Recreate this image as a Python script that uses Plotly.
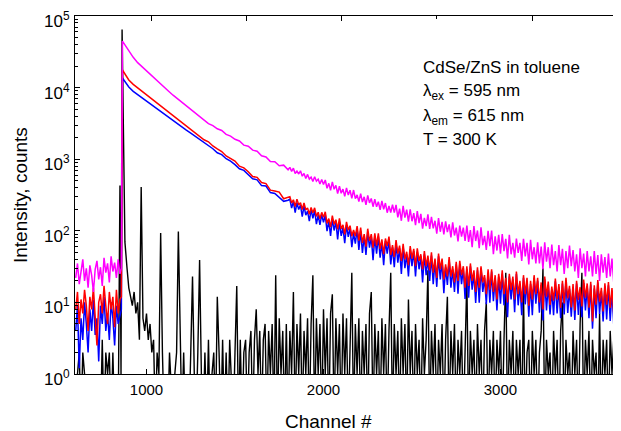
import numpy as np
import plotly.graph_objects as go

# ---------------- data ----------------
PRE_CH = list(range(600, 851, 10))                 # before the excitation pulse
RISE_CH = [858, 864]
HEAD_CH = [880, 900, 925, 950, 975]
MID_CH = list(range(1000, 1801, 25))
TAIL_CH = list(range(1810, 3671, 10))
COLOR_CH = PRE_CH + RISE_CH + HEAD_CH + MID_CH + TAIL_CH

MAGENTA_COUNTS = (
    [22, 35, 18, 28, 40, 20, 30, 16, 33, 24, 14, 29, 38, 21, 31, 17, 42, 26, 35, 19, 44, 27, 36, 22, 40, 25]
    + [30, 44700]
    + [38600, 32200, 26500, 22300, 19500]
    + [16900, 14800, 13000, 11500, 10100, 8890, 7830, 6970, 6220, 5560, 4970, 4440]
    + [3963, 3575, 3145, 2946, 2658, 2515, 2225, 2105, 1900, 1797, 1573, 1516, 1338,
       1291, 1116, 1075, 929, 922, 811, 826, 711]
    + [769, 675, 750, 631, 683, 621, 689, 579, 631, 538]
    + [613, 527, 560, 489, 568, 493, 527, 451, 521, 443]
    + [512, 393, 460, 368, 482, 380, 432, 332, 419, 334]
    + [382, 303, 398, 315, 369, 284, 371, 282, 317, 256]
    + [330, 252, 298, 231, 312, 245, 283, 217, 276, 216]
    + [255, 196, 261, 200, 244, 179, 222, 180, 232, 179]
    + [230, 154, 204, 138, 223, 153, 197, 134, 200, 136]
    + [176, 120, 188, 128, 172, 107, 151, 116, 170, 106]
    + [156, 108, 138, 91, 150, 97, 133, 89, 135, 96]
    + [123, 81, 131, 86, 111, 71, 118, 83, 111, 72]
    + [118, 70, 102, 59, 116, 72, 101, 57, 112, 63]
    + [85, 54, 100, 61, 101, 47, 84, 53, 88, 48]
    + [90, 52, 77, 41, 88, 47, 68, 42, 78, 49]
    + [68, 38, 77, 44, 68, 34, 75, 40, 59, 35]
    + [69, 35, 60, 29, 69, 37, 59, 30, 64, 33]
    + [52, 27, 63, 33, 56, 25, 52, 30, 62, 32]
    + [54, 27, 47, 22, 57, 30, 48, 23, 52, 27]
    + [44, 23, 52, 25, 46, 20, 47, 26, 43, 22]
    + [48, 23, 41, 19, 47, 24, 41]
)

RED_COUNTS = (
    [8, 14, 5, 11, 7, 15, 9, 4, 12, 8, 16, 6, 2.5, 10, 13, 7, 17, 9, 5, 14, 8, 12, 4.5, 15, 7, 11]
    + [12, 17600]
    + [15300, 12800, 11100, 9950, 8910]
    + [7960, 7130, 6370, 5700, 5110, 4560, 4080, 3660, 3280, 2940, 2640, 2370]
    + [2150, 1870, 1750, 1530, 1393, 1280, 1110, 1026, 943, 800, 756, 667, 574,
       558, 473, 456, 370, 360, 347, 280, 294]
    + [300, 245, 271, 218, 276, 230, 246, 198, 245, 196]
    + [209, 170, 212, 179, 209, 159, 182, 147, 181, 154]
    + [184, 127, 148, 113, 163, 123, 143, 105, 149, 106]
    + [121, 89, 133, 102, 118, 84, 103, 84, 116, 73]
    + [111, 68, 90, 60, 107, 72, 90, 58, 92, 62]
    + [92, 56, 76, 47, 78, 61, 83, 46, 63, 43]
    + [74, 48, 62, 38, 66, 40, 51, 33, 61, 41]
    + [56, 32, 57, 38, 47, 29, 52, 32, 45, 28]
    + [50, 26, 41, 22, 48, 29, 41, 21, 34, 23]
    + [43, 23, 32, 19, 37, 20, 38, 24, 32, 16]
    + [32, 17, 35, 20, 28, 14, 31, 16, 32, 19]
    + [24, 13, 29, 15, 29, 14, 24, 11, 25, 15]
    + [28, 13, 22, 10, 25, 15, 23, 11, 27, 13]
    + [20, 10, 24, 13, 22, 9, 20, 11, 24, 13]
    + [22, 10, 19, 8, 23, 12, 19.5, 9.2, 16.6, 10.6]
    + [21.6, 11, 18, 8.4, 20, 9.7, 22, 11.4, 17, 8.5]
    + [18, 7.7, 20, 10.8, 16.3, 8.8, 20.8, 11.6, 18.4, 8.4]
    + [19.4, 5.4, 17.3, 9.3, 20.5, 10.2, 16, 7.5, 18.5, 9.3]
    + [19.2, 8.4, 15.9, 7, 17.6, 10, 16.3]
)

BLUE_COUNTS = (
    [4, 9, 1.2, 6, 3, 10, 5, 2, 8, 4, 11, 3.5, 6, 1.5, 9, 5, 12, 4, 7, 3, 10, 6, 2.5, 9, 5, 7]
    + [8, 13600]
    + [12000, 10200, 8870, 7980, 7160]
    + [6440, 5810, 5220, 4710, 4250, 3820, 3450, 3130, 2820, 2550, 2310, 2090]
    + [1875, 1726, 1519, 1400, 1230, 1157, 1016, 937, 840, 736, 698, 605, 533,
       515, 428, 422, 342, 332, 296, 258, 267]
    + [276, 208, 257, 179, 248, 198, 229, 158, 223, 165]
    + [188, 136, 199, 149, 192, 124, 166, 121, 168, 131]
    + [167, 99, 138, 85, 147, 101, 134, 76, 134, 85]
    + [111, 67, 120, 82, 110, 59, 93, 66, 107, 54]
    + [100, 49, 84, 46, 97, 58, 83, 39, 83, 48]
    + [84, 42, 68, 33, 72, 48, 75, 34, 59, 31]
    + [67, 36, 57, 25, 60, 30, 47, 23, 55, 32]
    + [52, 23, 51, 29, 44, 19, 47, 24, 41, 20]
    + [45, 18, 38, 16.5, 44, 21, 38, 13.4, 31, 17.5]
    + [39, 16, 29, 14, 34, 13.2, 34, 18, 30, 11.2]
    + [29, 11.6, 32, 15, 25, 9.8, 28, 9.9, 30, 14]
    + [22, 9.4, 26, 9.9, 27, 10.4, 22, 7.7, 23, 9.6]
    + [25, 9.1, 20, 6.2, 23, 11, 21, 7.3, 25, 9.1]
    + [18, 6.6, 22, 9.4, 20, 6.3, 18, 6.6, 22, 9.6]
    + [20, 7.2, 17.5, 5.6, 21, 7.7, 17.6, 6.8, 15.3, 6.6]
    + [19.7, 7, 16.2, 6, 18.4, 6.8, 19.8, 7.1, 15.5, 6.3]
    + [16.2, 5.7, 18.4, 6.7, 14.8, 6.2, 18.7, 7.7, 16.9, 6]
    + [17.7, 4.3, 15.6, 6, 18.9, 6.9, 14.4, 5.4, 16.8, 5.8]
    + [17.3, 5.5, 14.6, 4.9, 16, 6, 14.7]
)

# instrument response / scatter (black)
BLACK_CH = list(range(600, 841, 10)) + [850, 856, 862, 878, 890] + list(range(900, 3671, 10))
BLACK_COUNTS = (
    [0, 1, 2, 0, 2, 1, 0, 0, 0, 0, 0, 1, 0, 0, 0, 3, 0, 2, 1, 2, 0, 2, 0, 0, 0]
    + [430, 1, 65000, 70, 30]
    + [16, 12, 9, 14, 7, 10, 3, 410, 6, 4]
    + [7, 3, 5, 2, 3, 0, 2, 1, 93, 2]
    + [0, 1, 0, 2, 0, 0, 1, 2, 98, 1]
    + [0, 2, 0, 1, 0, 2, 23, 1, 0, 2]
    + [39, 1, 0, 2, 0, 3, 0, 1, 2, 0]
    + [12, 2, 0, 3, 0, 2, 0, 3, 1, 0]
    + [2, 17, 0, 3, 0, 2, 3, 0, 2, 4]
    + [0, 3, 8, 1, 4, 0, 3, 5, 0, 4]
    + [1, 5, 0, 24, 0, 6, 1, 4, 0, 5]
    + [0, 4, 1, 14, 0, 5, 1, 7, 0, 4]
    + [1, 6, 0, 5, 24, 0, 6, 1, 5, 0]
    + [8, 1, 6, 0, 7, 13, 0, 6, 1, 5]
    + [0, 7, 1, 6, 0, 4, 26, 0, 5, 1]
    + [6, 0, 4, 1, 5, 0, 7, 14, 0, 5]
    + [1, 4, 0, 6, 1, 5, 0, 4, 26, 0]
    + [5, 1, 4, 0, 6, 1, 5, 0, 11, 1]
    + [4, 0, 5, 1, 3, 0, 6, 1, 3, 28]
    + [0, 4, 1, 5, 0, 3, 1, 5, 0, 3]
    + [12, 0, 4, 1, 5, 0, 3, 1, 4, 0]
    + [3, 22, 0, 4, 1, 3, 0, 5, 1, 3]
    + [0, 4, 10, 0, 3, 1, 4, 0, 3, 1]
    + [4, 0, 3, 26, 0, 3, 1, 4, 0, 3]
    + [1, 3, 0, 15, 0, 2, 3, 0, 4, 1]
    + [3, 0, 2, 4, 30, 0, 3, 1, 2, 0]
    + [4, 1, 3, 0, 4, 10, 0, 3, 1, 2]
    + [0, 4, 1, 3, 0, 5, 26, 0, 3, 1]
    + [4, 0, 3, 1, 2, 0, 7, 0, 3, 1]
    + [3, 0, 4, 1, 3, 0, 4, 8]
)

X_TICKS = [1000, 2000, 3000]
Y_TICKS = [1, 10, 100, 1000, 10000, 100000]
Y_TICK_TEXT = ["10<sup>0</sup>", "10<sup>1</sup>", "10<sup>2</sup>",
               "10<sup>3</sup>", "10<sup>4</sup>", "10<sup>5</sup>"]
INFO_LINES = ["CdSe/ZnS in toluene",
              "λ<sub>ex</sub> = 595 nm",
              "λ<sub>em</sub> = 615 nm",
              "T = 300 K"]

# zero counts cannot sit on a log axis: send them just below the frame
black_arr = np.array(BLACK_COUNTS, dtype=float)
black_plot = np.where(black_arr > 0, black_arr, 0.2)

FONT = "Liberation Sans, Arial, Helvetica, sans-serif"

fig = go.Figure()
fig.add_trace(go.Scatter(x=BLACK_CH, y=black_plot, mode="lines",
                         line=dict(color="black", width=1.4)))
fig.add_trace(go.Scatter(x=COLOR_CH, y=BLUE_COUNTS, mode="lines",
                         line=dict(color="#0000FF", width=1.5)))
fig.add_trace(go.Scatter(x=COLOR_CH, y=RED_COUNTS, mode="lines",
                         line=dict(color="#FF0000", width=1.5)))
fig.add_trace(go.Scatter(x=COLOR_CH, y=MAGENTA_COUNTS, mode="lines",
                         line=dict(color="#FF00FF", width=1.5)))
# empty trace so that the top / right tick-only axes are drawn
fig.add_trace(go.Scatter(x=[None], y=[None], xaxis="x2", yaxis="y2",
                         mode="lines", hoverinfo="skip"))

minor_y = [m * 10 ** e for e in range(5) for m in range(2, 10)]

# the page body has an 8 px margin, so the figure is 8 px smaller
fig.update_layout(
    width=613, height=423,
    margin=dict(l=67, r=0, t=8, b=57),
    showlegend=False,
    plot_bgcolor="white", paper_bgcolor="white",
    font=dict(family=FONT, color="black"),
    xaxis=dict(range=[596, 3681], tickmode="array", tickvals=X_TICKS,
               ticks="inside", ticklen=5, tickcolor="black",
               showline=True, linecolor="black", linewidth=1,
               showgrid=False, zeroline=False,
               tickfont=dict(size=15, family=FONT), ticklabelstandoff=2),
    xaxis2=dict(overlaying="x", side="top", range=[0.2021, 5.934],
                tickmode="array", tickvals=[1, 2, 3, 5],
                ticks="inside", ticklen=5, tickcolor="black",
                showticklabels=False, showline=True, linecolor="black",
                linewidth=1, showgrid=False, zeroline=False,
                minor=dict(tickmode="array", tickvals=[4], ticks="inside",
                           ticklen=3, tickcolor="black", showgrid=False)),
    yaxis=dict(type="log", range=[0, 5], tickmode="array", tickvals=Y_TICKS,
               showticklabels=False, ticks="inside", ticklen=5,
               tickcolor="black", showline=True, linecolor="black",
               linewidth=1, showgrid=False, zeroline=False,
               minor=dict(tickmode="array", tickvals=minor_y, ticks="inside",
                          ticklen=3, tickcolor="black", showgrid=False)),
    yaxis2=dict(type="log", range=[0, 5], overlaying="y", side="right",
                tickmode="array", tickvals=[10, 100, 1000, 10000],
                ticks="inside", ticklen=3, tickcolor="black",
                showticklabels=False, showline=False, showgrid=False,
                zeroline=False),
)

# y tick labels (10^n), placed next to the left axis
for v, txt in zip(Y_TICKS, Y_TICK_TEXT):
    fig.add_annotation(text=txt, xref="paper", yref="y", x=-0.0055,
                       y=np.log10(v), xanchor="right", yanchor="middle",
                       yshift=-4, showarrow=False,
                       font=dict(size=17, family=FONT, color="black"))

for txt, yp in zip(INFO_LINES, [0.8575, 0.7877, 0.7179, 0.6564]):
    fig.add_annotation(text=txt, xref="paper", yref="paper", x=0.634, y=yp,
                       xanchor="left", yanchor="middle", showarrow=False,
                       font=dict(size=17, family=FONT, color="black"))

fig.add_annotation(text="Channel #", xref="paper", yref="paper",
                   x=0.465, y=-0.1313, xanchor="center", yanchor="middle",
                   showarrow=False, font=dict(size=19, family=FONT))
fig.add_annotation(text="Intensity, counts", xref="paper", yref="paper",
                   x=-0.1007, y=0.5, xanchor="center", yanchor="middle",
                   textangle=-90, showarrow=False,
                   font=dict(size=19, family=FONT))

fig.write_html("out.html")
